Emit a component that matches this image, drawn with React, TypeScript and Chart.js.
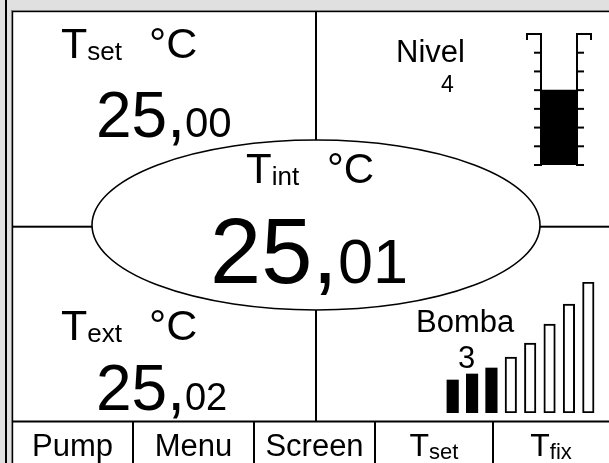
import React, { useEffect, useRef } from "react";
import { Chart, registerables } from "chart.js";
Chart.register(...registerables);

// ---- data ----
const tempNames = ["set", "int", "ext"];
const tempValues = [25.0, 25.01, 25.02];
const unitLabel = "°C";
const nivelLabel = "Nivel";
const nivelLevel = 4;
const nivelSteps = 7;
const bombaLabel = "Bomba";
const bombaLevel = 3;
const bombaBars = [33, 39, 45, 56, 70, 89, 109, 131];
const buttonMain = ["Pump", "Menu", "Screen", "T", "T"];
const buttonSub = ["", "", "", "set", "fix"];

// ---- layout ----
const W = 609;
const H = 463;
const FONT = "'Liberation Sans', Arial, Helvetica, sans-serif";

type Piece = [string, number, number];

function splitValue(v: number): [string, string] {
  const [a, b] = v.toFixed(2).split(".");
  return [a + ",", b];
}

function runWidth(ctx: CanvasRenderingContext2D, pieces: Piece[]) {
  let w = 0;
  for (const [t, s] of pieces) {
    ctx.font = `${s}px ${FONT}`;
    w += ctx.measureText(t).width;
  }
  return w;
}

function drawRun(ctx: CanvasRenderingContext2D, x: number, y: number, pieces: Piece[]) {
  let cx = x;
  for (const [t, s, dy] of pieces) {
    ctx.font = `${s}px ${FONT}`;
    ctx.fillText(t, cx, y + dy);
    cx += ctx.measureText(t).width;
  }
  return cx;
}

const framePlugin = {
  id: "frame",
  afterDraw(chart: any) {
    const ctx: CanvasRenderingContext2D = chart.ctx;
    const sx = chart.scales.x;
    const sy = chart.scales.y;
    const X = (v: number) => sx.getPixelForValue(v);
    const Y = (v: number) => sy.getPixelForValue(v);
    ctx.save();
    // background
    ctx.fillStyle = "#e0e0e0";
    ctx.fillRect(X(0), Y(0), X(W) - X(0), Y(H) - Y(0));
    ctx.fillStyle = "#ffffff";
    ctx.fillRect(X(12), Y(11), X(W) - X(12), Y(H) - Y(11));
    // outer line
    ctx.fillStyle = "#000";
    ctx.fillRect(X(5), Y(0), 2, Y(H) - Y(0));
    // inner frame shadow + line
    ctx.fillStyle = "#808080";
    ctx.fillRect(X(11), Y(10), 1, Y(H) - Y(10));
    ctx.fillRect(X(11), Y(10), X(W) - X(11), 1);
    ctx.fillStyle = "#000";
    ctx.fillRect(X(12), Y(11), 1.2, Y(H) - Y(11));
    ctx.fillRect(X(12), Y(11), X(W) - X(12), 1.2);
    // dividers
    ctx.fillRect(X(315), Y(11), 2, Y(421) - Y(11));
    ctx.fillRect(X(12), Y(225.7), X(W) - X(12), 2);
    ctx.fillRect(X(12), Y(420.5), X(W) - X(12), 2);
    for (const bx of [132, 253, 374, 492]) ctx.fillRect(X(bx), Y(421), 2, Y(H) - Y(421));
    // ellipse
    ctx.beginPath();
    ctx.ellipse(X(316), Y(225), X(224) - X(0), Y(85) - Y(0), 0, 0, Math.PI * 2);
    ctx.fillStyle = "#fff";
    ctx.fill();
    ctx.lineWidth = 1.6;
    ctx.strokeStyle = "#000";
    ctx.stroke();

    // texts
    ctx.fillStyle = "#000";
    ctx.textBaseline = "alphabetic";
    ctx.textAlign = "left";
    const [s0a, s0b] = splitValue(tempValues[0]);
    const [s1a, s1b] = splitValue(tempValues[1]);
    const [s2a, s2b] = splitValue(tempValues[2]);

    // T set
    drawRun(ctx, X(61), Y(58), [["T", 43, 0], [tempNames[0], 26, 2]]);
    drawRun(ctx, X(149), Y(58), [[unitLabel, 43, 0]]);
    drawRun(ctx, X(96), Y(137), [[s0a, 64, 0], [s0b, 42, 0]]);

    // T int
    drawRun(ctx, X(246), Y(183), [["T", 42, 0], [tempNames[1], 26, 2]]);
    drawRun(ctx, X(327), Y(183), [[unitLabel, 42, 0]]);
    drawRun(ctx, X(210), Y(283), [[s1a, 92, 0], [s1b, 63, 0]]);

    // T ext
    drawRun(ctx, X(61), Y(340), [["T", 43, 0], [tempNames[2], 26, 2]]);
    drawRun(ctx, X(149), Y(340), [[unitLabel, 43, 0]]);
    drawRun(ctx, X(96), Y(410), [[s2a, 64, 0], [s2b, 38, 0]]);

    // Nivel
    drawRun(ctx, X(396), Y(62), [[nivelLabel, 31, 0]]);
    drawRun(ctx, X(441), Y(92), [[String(nivelLevel), 23, 0]]);

    // Bomba
    drawRun(ctx, X(416), Y(332), [[bombaLabel, 31, 0]]);
    drawRun(ctx, X(458), Y(368), [[String(bombaLevel), 31, 0]]);

    // buttons
    const cells = [12, 133, 254, 375, 493, 609];
    for (let i = 0; i < buttonMain.length; i++) {
      const c = (cells[i] + cells[i + 1]) / 2;
      const pieces: Piece[] = buttonSub[i]
        ? [[buttonMain[i], 32, 0], [buttonSub[i], 22, 3]]
        : [[buttonMain[i], 31, 0]];
      const w = runWidth(ctx, pieces);
      drawRun(ctx, X(c) - w / 2, Y(456), pieces);
    }
    ctx.restore();
  },
};

const gaugePlugin = {
  id: "gauge",
  afterDatasetsDraw(chart: any) {
    const ctx: CanvasRenderingContext2D = chart.ctx;
    const { left, right } = chart.chartArea;
    const y = chart.scales.y;
    const top = y.getPixelForValue(nivelSteps);
    const bottom = y.getPixelForValue(0);
    ctx.save();
    ctx.strokeStyle = "#000";
    ctx.lineWidth = 2;
    const line = (a: number, b: number, c: number, d: number) => {
      ctx.beginPath();
      ctx.moveTo(a, b);
      ctx.lineTo(c, d);
      ctx.stroke();
    };
    line(left, top, left, bottom + 1);
    line(right, top, right, bottom + 1);
    for (let v = 0; v < nivelSteps; v++) {
      const py = y.getPixelForValue(v);
      line(left - 7, py, left, py);
      line(right, py, right + 7, py);
    }
    line(left + 1, top, left - 14, top);
    line(left - 14, top - 1, left - 14, top + 6);
    line(right - 1, top, right + 14, top);
    line(right + 14, top - 1, right + 14, top + 6);
    ctx.restore();
  },
};

const baseOpts = {
  animation: false as const,
  responsive: false,
  devicePixelRatio: 1,
  events: [] as any[],
  plugins: { legend: { display: false }, tooltip: { enabled: false } },
};

export default function App() {
  const mainRef = useRef<HTMLCanvasElement>(null);
  const gaugeRef = useRef<HTMLCanvasElement>(null);
  const bombaRef = useRef<HTMLCanvasElement>(null);

  useEffect(() => {
    const main = new Chart(mainRef.current!, {
      type: "scatter",
      data: { datasets: [] },
      options: {
        ...baseOpts,
        layout: { padding: 0 },
        scales: {
          x: { type: "linear", min: 0, max: W, display: false },
          y: { type: "linear", min: 0, max: H, reverse: true, display: false },
        },
      },
      plugins: [framePlugin],
    } as any);

    const gauge = new Chart(gaugeRef.current!, {
      type: "bar",
      data: {
        labels: [nivelLabel],
        datasets: [
          {
            data: [nivelLevel],
            backgroundColor: "#000",
            borderWidth: 0,
            barPercentage: 1,
            categoryPercentage: 1,
          },
        ],
      },
      options: {
        ...baseOpts,
        layout: { padding: { left: 21, right: 21, top: 6, bottom: 5 } },
        scales: {
          x: { display: false },
          y: { display: false, min: 0, max: nivelSteps },
        },
      },
      plugins: [gaugePlugin],
    } as any);

    const bomba = new Chart(bombaRef.current!, {
      type: "bar",
      data: {
        labels: bombaBars.map((_, i) => String(i + 1)),
        datasets: [
          {
            data: bombaBars,
            backgroundColor: bombaBars.map((_, i) => (i < bombaLevel ? "#000" : "#fff")),
            borderColor: "#000",
            borderWidth: bombaBars.map((_, i) => (i < bombaLevel ? 0 : 2)),
            borderSkipped: false,
            barThickness: 11.5,
          },
        ],
      },
      options: {
        ...baseOpts,
        layout: { padding: { left: 7, right: 6, top: 6, bottom: 5 } },
        scales: {
          x: { display: false },
          y: { display: false, min: 0, max: Math.max(...bombaBars) },
        },
      },
    } as any);

    return () => {
      main.destroy();
      gauge.destroy();
      bomba.destroy();
    };
  }, []);

  return (
    <div
      style={{
        position: "fixed",
        left: 0,
        top: 0,
        width: W,
        height: H,
        overflow: "hidden",
        background: "#e0e0e0",
      }}
    >
      <canvas ref={mainRef} width={W} height={H} style={{ position: "absolute", left: 0, top: 0, width: W, height: H }} />
      <canvas ref={gaugeRef} width={78} height={142} style={{ position: "absolute", left: 520, top: 28, width: 78, height: 142 }} />
      <canvas ref={bombaRef} width={168} height={142} style={{ position: "absolute", left: 436, top: 276, width: 168, height: 142 }} />
    </div>
  );
}
